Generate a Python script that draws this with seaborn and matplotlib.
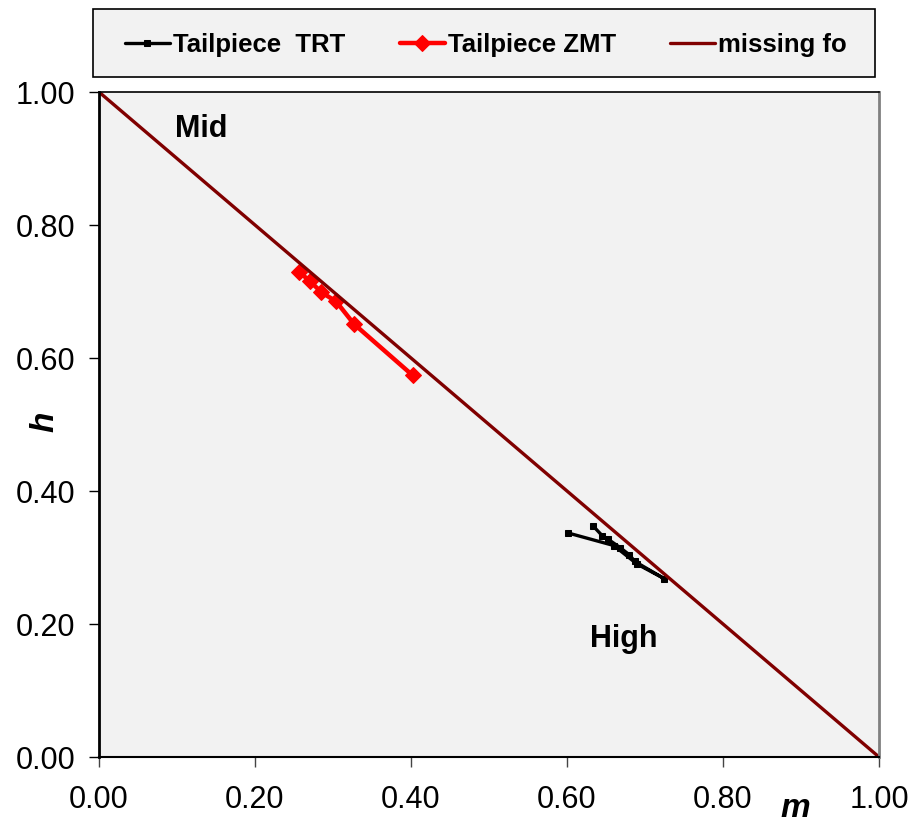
import numpy as np
import pandas as pd
import matplotlib
matplotlib.use("Agg")
import matplotlib.pyplot as plt
from matplotlib.patches import Rectangle
import seaborn as sns

# data
m_trt = [0.633, 0.645, 0.652, 0.668, 0.680, 0.687, 0.725, 0.690, 0.660, 0.601]
h_trt = [0.348, 0.333, 0.328, 0.315, 0.304, 0.294, 0.268, 0.290, 0.318, 0.337]

m_zmt = [0.257, 0.270, 0.285, 0.304, 0.327, 0.402]
h_zmt = [0.729, 0.716, 0.699, 0.685, 0.651, 0.574]

m_fo = [0.0, 1.0]
h_fo = [1.0, 0.0]

ticks = [0.0, 0.2, 0.4, 0.6, 0.8, 1.0]
tick_labels = ["0.00", "0.20", "0.40", "0.60", "0.80", "1.00"]

sns.set_style("ticks")
plt.rcParams['font.family'] = ['Liberation Sans', 'DejaVu Sans']
plt.rcParams['text.color'] = 'black'
plt.rcParams['xtick.labelcolor'] = 'black'
plt.rcParams['ytick.labelcolor'] = 'black'

fig = plt.figure(figsize=(9.15, 8.22), dpi=100)
ax = fig.add_axes([99/915, 1-757/822, 780/915, 665/822])
ax.set_facecolor("#f2f2f2")

sns.lineplot(x=m_trt, y=h_trt, sort=False, estimator=None, ax=ax, color="black",
             lw=2.4, marker="s", ms=5, mec="black", label="Tailpiece  TRT")
sns.lineplot(x=m_zmt, y=h_zmt, sort=False, estimator=None, ax=ax, color="#ff0000",
             lw=3.2, marker="D", ms=8, mec="#ff0000", label="Tailpiece ZMT")
sns.lineplot(x=m_fo, y=h_fo, sort=False, estimator=None, ax=ax, color="#800000",
             lw=2.4, label="missing fo")

ax.set_xlim(0, 1)
ax.set_ylim(0, 1)
ax.set_xticks(ticks)
ax.set_xticklabels(tick_labels)
ax.set_yticks(ticks)
ax.set_yticklabels(tick_labels)
ax.tick_params(axis="x", direction="out", length=7, width=1, color="#444444",
               labelsize=22, pad=13)
ax.tick_params(axis="y", direction="out", length=7, width=1, color="black",
               labelsize=22, pad=10)

for s in ["left", "bottom", "top"]:
    ax.spines[s].set_color("black")
ax.spines["left"].set_linewidth(2)
ax.spines["bottom"].set_linewidth(1.5)
ax.spines["top"].set_linewidth(1.2)
ax.spines["right"].set_color("#808080")
ax.spines["right"].set_linewidth(2)

ax.set_xlabel("")
ax.set_ylabel("")
fig.text(45/915, 1-422/822, "h", rotation=90, fontsize=24, fontweight="bold",
         style="italic", ha="center", va="center")
fig.text(795/915, 1-808/822, "m", fontsize=24, fontweight="bold",
         style="italic", ha="center", va="center")

ax.text(0.097, 0.945, "Mid", fontsize=22, fontweight="bold", ha="left", va="center")
ax.text(0.629, 0.178, "High", fontsize=22, fontweight="bold", ha="left", va="center")

# legend box
fig.patches.append(Rectangle((93/915, 1-77/822), 782/915, 68/822, transform=fig.transFigure,
                             facecolor="#f2f2f2", edgecolor="black", lw=1.2, zorder=0))

ax.get_legend().remove()
handles, labels = ax.get_legend_handles_labels()
leg = fig.legend(handles, labels, ncol=3, loc="center left",
                 bbox_to_anchor=(125/915, 1-45/822, 722/915, 0), mode="expand",
                 frameon=False, prop={"size": 18.5, "weight": "bold"}, handlelength=1.75,
                 handletextpad=0.12, borderaxespad=0, borderpad=0, numpoints=1)

fig.savefig("out.png", dpi=100, facecolor="white")
